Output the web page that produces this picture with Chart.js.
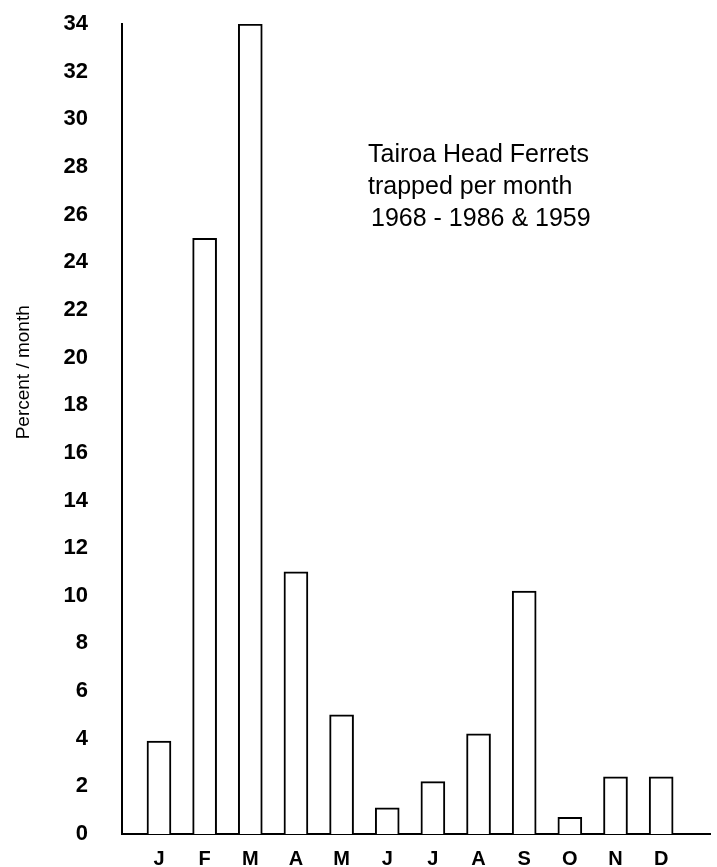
<!DOCTYPE html>
<html>
<head>
<meta charset="utf-8">
<script src="https://cdn.jsdelivr.net/npm/chart.js@4"></script>
<style>
  html, body { margin: 0; padding: 0; background: #fff; }
  #wrap { width: 717px; height: 867px; }
</style>
</head>
<body>
<div id="wrap"><canvas id="ferretChart" width="717" height="867"></canvas></div>
<script>
// Month initials and percent of ferrets trapped each month
const months = ['J', 'F', 'M', 'A', 'M', 'J', 'J', 'A', 'S', 'O', 'N', 'D'];
const percents = [3.9, 25, 34, 11, 5, 1.1, 2.2, 4.2, 10.2, 0.7, 2.4, 2.4];

// Y axis range and step
const yMin = 0;
const yMax = 34;
const yStep = 2;

// Texts
const yTitle = 'Percent / month';
const noteLines = ['Tairoa Head Ferrets', 'trapped per month', '1968 - 1986 & 1959'];

const FONT = '"Liberation Sans", Arial, Helvetica, sans-serif';

// Draw the y title and the note on the plot
const textPlugin = {
    id: 'texts',
    afterDraw(chart) {
        const ctx = chart.ctx;
        const area = chart.chartArea;
        ctx.save();
        ctx.fillStyle = '#000';

        // rotated y title, placed a bit above the middle like the original
        ctx.font = '19px ' + FONT;
        ctx.textAlign = 'center';
        ctx.textBaseline = 'middle';
        ctx.translate(24, area.top + (area.bottom - area.top) * 0.43);
        ctx.rotate(-Math.PI / 2);
        ctx.fillText(yTitle, 0, 0);
        ctx.restore();

        ctx.save();
        ctx.fillStyle = '#000';
        ctx.font = '25px ' + FONT;
        ctx.textAlign = 'left';
        ctx.textBaseline = 'alphabetic';
        const offsets = [0, 0, 3];
        noteLines.forEach((line, i) => {
            ctx.fillText(line, 368 + offsets[i], 162 + i * 32);
        });
        ctx.restore();
    }
};

const ctx = document.getElementById('ferretChart').getContext('2d');
const ferretChart = new Chart(ctx, {
    type: 'bar',
    data: {
        datasets: [{
            data: months.map((m, i) => ({ x: i + 1, y: percents[i] })),
            backgroundColor: '#fff',
            borderColor: '#000',
            borderWidth: 2,
            borderSkipped: 'bottom',
            barThickness: 24
        }]
    },
    options: {
        responsive: false,
        animation: false,
        layout: { padding: { top: 24, right: 7, left: 0, bottom: 0 } },
        plugins: {
            legend: { display: false },
            tooltip: { enabled: false }
        },
        scales: {
            x: {
                type: 'linear',
                offset: false,
                min: 0.19,
                max: 13.07,
                grid: { display: false, tickLength: 8 },
                border: { display: true, color: '#000', width: 2 },
                ticks: {
                    stepSize: 1,
                    includeBounds: false,
                    autoSkip: false,
                    maxRotation: 0,
                    padding: 5,
                    color: '#000',
                    font: { family: FONT, size: 20, weight: 'bold' },
                    callback: v => months[v - 1] || ''
                },
                afterFit: scale => { scale.height = 33; }
            },
            y: {
                min: yMin,
                max: yMax,
                grid: { display: false, tickLength: 30 },
                border: { display: true, color: '#000', width: 2 },
                ticks: {
                    stepSize: yStep,
                    padding: 4,
                    color: '#000',
                    font: { family: FONT, size: 22, weight: 'bold' }
                },
                afterFit: scale => { scale.width = 122; }
            }
        }
    },
    plugins: [textPlugin]
});
</script>
</body>
</html>
